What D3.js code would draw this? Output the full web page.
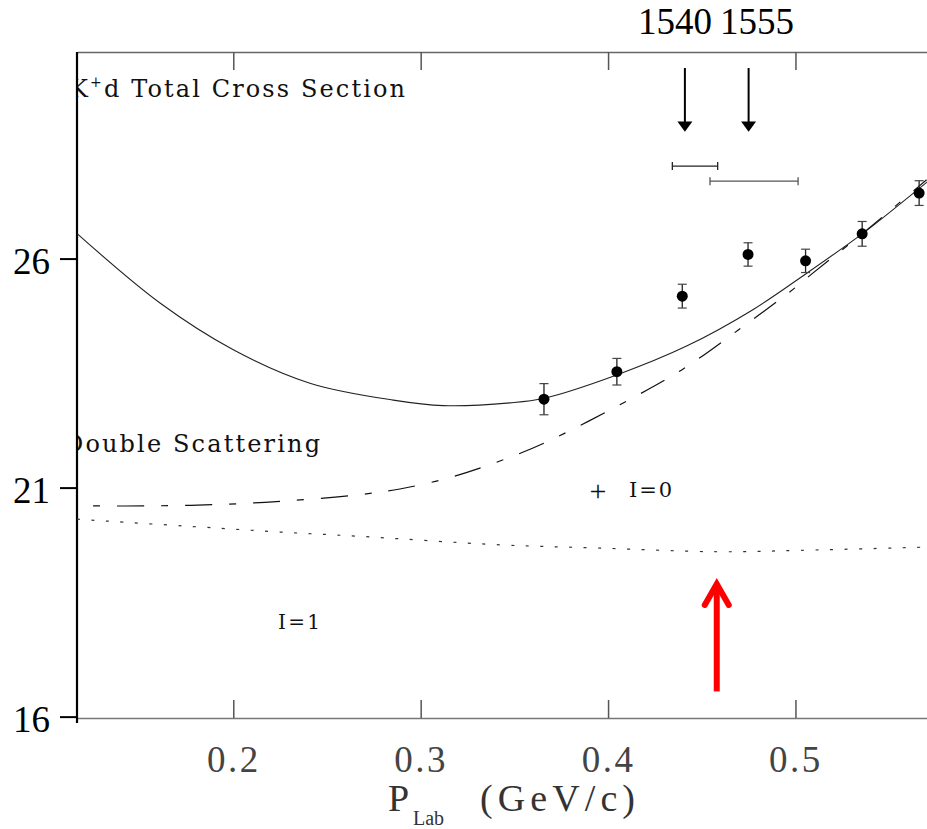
<!DOCTYPE html>
<html>
<head>
<meta charset="utf-8">
<script src="https://cdn.jsdelivr.net/npm/d3@7/dist/d3.min.js"></script>
<style>
  html, body { margin: 0; padding: 0; background: #fff; }
  svg { display: block; }
  text { font-family: "Liberation Serif", "Times New Roman", serif; }
  .lbl { font-family: "DejaVu Serif", "Liberation Serif", serif; }
</style>
</head>
<body>
<svg id="chart" width="927" height="829"></svg>
<script>
// ---------------- data ----------------
const pLab      = [0.3658, 0.4047, 0.4396, 0.4747, 0.5054, 0.5356, 0.5660];
const sigma     = [22.93, 23.53, 25.18, 26.09, 25.95, 26.54, 27.43];
const sigmaErr  = [0.34, 0.29, 0.26, 0.255, 0.255, 0.27, 0.27];

// full calculation (solid)
const fullP = [0.1168, 0.1609, 0.2000, 0.2409, 0.2854, 0.3121, 0.3477, 0.3658, 0.4046, 0.4419, 0.4775, 0.5060, 0.5356, 0.5451, 0.5702];
const fullS = [26.54, 25.03, 24.01, 23.28, 22.91, 22.79, 22.85, 22.95, 23.46, 24.09, 24.89, 25.68, 26.54, 26.84, 27.67];

// double scattering (dash-dot)
const dsP = [0.1252, 0.1529, 0.1913, 0.2287, 0.2660, 0.2889, 0.3156, 0.3423, 0.3663, 0.4063, 0.4393, 0.4695, 0.4997, 0.5086, 0.5355, 0.5700];
const dsS = [20.60, 20.60, 20.63, 20.71, 20.84, 20.97, 21.22, 21.58, 21.98, 22.81, 23.57, 24.44, 25.36, 25.66, 26.54, 27.72];

// I=1 contribution (dotted)
const i1P = [0.1166, 0.1823, 0.2250, 0.2660, 0.3424, 0.3957, 0.4580, 0.5024, 0.5690];
const i1S = [20.31, 20.14, 20.03, 19.94, 19.75, 19.68, 19.60, 19.63, 19.70];

// resonance marks
const massLabels = ["1540", "1555"];
const massP      = [0.441, 0.475];
const rangeLo    = [0.4343, 0.4544];
const rangeHi    = [0.4585, 0.5014];
const rangeS     = [28.02, 27.69];

const xTicks = [0.2, 0.3, 0.4, 0.5];
const yTicks = [16, 21, 26];

// ---------------- layout ----------------
const svg = d3.select("#chart");
const L = 77, R = 927, T = 52, B = 718;
const x = d3.scaleLinear().domain([0.1166, 0.5702]).range([L, R]);
const y = d3.scaleLinear().domain([15.97, 30.51]).range([B, T]);

svg.append("defs").append("clipPath").attr("id", "plotclip")
  .append("rect").attr("x", L).attr("y", T).attr("width", R - L).attr("height", B - T);
svg.append("defs").append("clipPath").attr("id", "textclip")
  .append("rect").attr("x", L + 1).attr("y", 0).attr("width", R - L).attr("height", 829);

// top axis
const topAx = svg.append("g").attr("transform", `translate(0,${T})`)
  .call(d3.axisTop(x).tickValues(xTicks).tickSizeInner(-18).tickSizeOuter(0).tickFormat(""));
topAx.select(".domain").attr("stroke", "#666").attr("stroke-width", 1.5);
topAx.selectAll(".tick line").attr("stroke", "#555").attr("stroke-width", 1.5);

// bottom axis
const botAx = svg.append("g").attr("transform", `translate(0,${B})`)
  .call(d3.axisBottom(x).tickValues(xTicks).tickSizeInner(-18).tickSizeOuter(0).tickFormat(d3.format(".1f")));
botAx.select(".domain").attr("stroke", "#777").attr("stroke-width", 1.5);
botAx.selectAll(".tick line").attr("stroke", "#555").attr("stroke-width", 1.5);
botAx.selectAll(".tick text")
  .attr("y", 54).attr("dy", 0)
  .attr("font-family", "'Liberation Serif', serif")
  .attr("font-size", 37).attr("fill", "#444")
  .attr("letter-spacing", 2.5);

// left axis
const leftAx = svg.append("g").attr("transform", `translate(${L},0)`)
  .call(d3.axisLeft(y).tickValues(yTicks).tickSizeInner(17).tickSizeOuter(0).tickPadding(10).tickFormat(d3.format("d")));
leftAx.select(".domain").remove();
leftAx.selectAll(".tick line").attr("stroke", "#000").attr("stroke-width", 2);
leftAx.selectAll(".tick text")
  .attr("font-family", "'Liberation Serif', serif")
  .attr("font-size", 37).attr("fill", "#000").attr("dy", "0.4em");
svg.append("line").attr("x1", L).attr("x2", L).attr("y1", T).attr("y2", B + 5)
  .attr("stroke", "#000").attr("stroke-width", 2.2);

// axis title
const title = svg.append("text").attr("y", 811).attr("fill", "#333");
title.append("tspan").attr("x", 388).attr("font-size", 38).text("P");
title.append("tspan").attr("x", 413).attr("y", 825).attr("font-size", 20).text("Lab");
title.append("tspan").attr("x", 480).attr("y", 811).attr("font-size", 38)
  .attr("textLength", 155).attr("lengthAdjust", "spacing").text("(GeV/c)");

// curves
const plot = svg.append("g").attr("clip-path", "url(#plotclip)");
const line = d3.line().x(d => x(d[0])).y(d => y(d[1])).curve(d3.curveCatmullRom.alpha(0.5));

plot.append("path").datum(d3.zip(fullP, fullS)).attr("d", line)
  .attr("fill", "none").attr("stroke", "#222").attr("stroke-width", 1.1);
plot.append("path").datum(d3.zip(dsP, dsS)).attr("d", line)
  .attr("fill", "none").attr("stroke", "#111").attr("stroke-width", 1.2)
  .attr("stroke-dasharray", "7,17,27,17");
plot.append("path").datum(d3.zip(i1P, i1S)).attr("d", line)
  .attr("fill", "none").attr("stroke", "#333").attr("stroke-width", 1.2)
  .attr("stroke-dasharray", "3,11.5");

// data points with error bars
const pts = plot.append("g");
pLab.forEach((p, i) => {
  const cx = x(p), lo = y(sigma[i] - sigmaErr[i]), hi = y(sigma[i] + sigmaErr[i]);
  pts.append("line").attr("x1", cx).attr("x2", cx).attr("y1", lo).attr("y2", hi)
    .attr("stroke", "#222").attr("stroke-width", 1.3);
  [lo, hi].forEach(yy => pts.append("line").attr("x1", cx - 4.5).attr("x2", cx + 4.5)
    .attr("y1", yy).attr("y2", yy).attr("stroke", "#444").attr("stroke-width", 1.2));
  pts.append("circle").attr("cx", cx).attr("cy", y(sigma[i])).attr("r", 5.5).attr("fill", "#000");
});

// resonance arrows and labels
const arrowTopS = 30.16, arrowHeadS = 28.99, arrowTipS = 28.77;
massP.forEach((p, i) => {
  const ax = x(p);
  svg.append("line").attr("x1", ax).attr("x2", ax).attr("y1", y(arrowTopS)).attr("y2", y(arrowHeadS) + 1)
    .attr("stroke", "#000").attr("stroke-width", 2);
  svg.append("path")
    .attr("d", `M${ax - 7.5},${y(arrowHeadS)} L${ax + 7.5},${y(arrowHeadS)} L${ax},${y(arrowTipS)} Z`)
    .attr("fill", "#000");
});
svg.append("text").attr("x", 638).attr("y", 34).attr("font-size", 37).attr("fill", "#000").text(massLabels[0]);
svg.append("text").attr("x", 720).attr("y", 34).attr("font-size", 37).attr("fill", "#000").text(massLabels[1]);

rangeLo.forEach((lo, i) => {
  const yy = y(rangeS[i]), col = i === 0 ? "#222" : "#555";
  svg.append("line").attr("x1", x(lo)).attr("x2", x(rangeHi[i])).attr("y1", yy).attr("y2", yy)
    .attr("stroke", col).attr("stroke-width", 1.3);
  [lo, rangeHi[i]].forEach(v => svg.append("line").attr("x1", x(v)).attr("x2", x(v))
    .attr("y1", yy - 4).attr("y2", yy + 4).attr("stroke", col).attr("stroke-width", 1.3));
});

// red arrow
const redP = 0.458, redBase = 16.55, redTip = 18.94;
const rx = x(redP), rTip = y(redTip);
svg.append("line").attr("x1", rx).attr("x2", rx).attr("y1", y(redBase)).attr("y2", rTip + 2)
  .attr("stroke", "#ff0000").attr("stroke-width", 6);
svg.append("path").attr("d", `M${rx - 12},${rTip + 23} L${rx},${rTip + 2} L${rx + 12},${rTip + 23}`)
  .attr("fill", "none").attr("stroke", "#ff0000").attr("stroke-width", 6)
  .attr("stroke-linecap", "round").attr("stroke-linejoin", "miter");

// labels
const lab = svg.append("g").attr("clip-path", "url(#textclip)");
const t1 = lab.append("text").attr("class", "lbl").attr("x", 70).attr("y", 97).attr("font-size", 24).attr("fill", "#111")
  .attr("textLength", 335).attr("lengthAdjust", "spacing");
t1.append("tspan").text("K");
t1.append("tspan").attr("dy", -10).attr("font-size", 14).text("+");
t1.append("tspan").attr("dy", 10).text("d Total Cross Section");

lab.append("text").attr("class", "lbl").attr("x", 64).attr("y", 452).attr("font-size", 24).attr("fill", "#111")
  .attr("textLength", 256).attr("lengthAdjust", "spacing").text("Double Scattering");

svg.append("text").attr("class", "lbl").attr("x", 278).attr("y", 629).attr("font-size", 20).attr("fill", "#111")
  .attr("textLength", 42).attr("lengthAdjust", "spacing").text("I=1");
svg.append("text").attr("class", "lbl").attr("x", 629).attr("y", 497).attr("font-size", 21).attr("fill", "#111")
  .attr("textLength", 43).attr("lengthAdjust", "spacing").text("I=0");
svg.append("text").attr("x", 598).attr("y", 501).attr("font-size", 30).attr("fill", "#111")
  .attr("text-anchor", "middle").text("+");
</script>
</body>
</html>
